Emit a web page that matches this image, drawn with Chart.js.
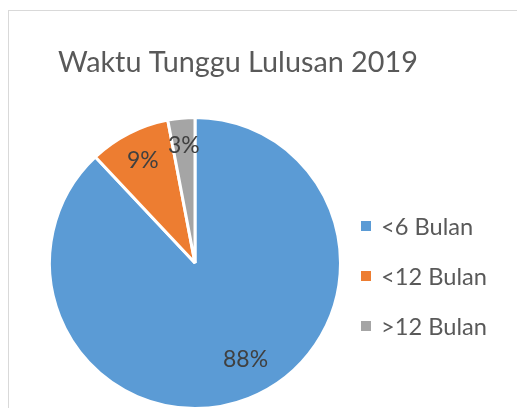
<!DOCTYPE html>
<html>
<head>
<meta charset="utf-8">
<script src="https://cdn.jsdelivr.net/npm/chart.js@4"></script>
<style>
  html, body { margin: 0; padding: 0; background: #fff; overflow: hidden; }
  #wrap { position: relative; width: 517px; height: 408px; overflow: hidden; }
  #frame { position: absolute; left: 8px; top: 10px; width: 600px; height: 500px;
           border-left: 1px solid #d9d9d9; border-top: 1px solid #d9d9d9; }
  #myChart { position: absolute; left: 0; top: 0; }
</style>
</head>
<body>
<div id="wrap">
  <div id="frame"></div>
  <canvas id="myChart" width="517" height="420"></canvas>
</div>
<script>
// data
const chartTitle = 'Waktu Tunggu Lulusan 2019';
const categories = ['<6 Bulan', '<12 Bulan', '>12 Bulan'];
const values = [88, 9, 3];
const colors = ['#5B9BD5', '#ED7D31', '#A5A5A5'];

const FONT = 'Lato, "Open Sans", sans-serif';

// fit a font size so the text gets a given width
function fitSize(ctx, text, width) {
    ctx.font = '20px ' + FONT;
    return 20 * width / ctx.measureText(text).width;
}

// label placement per slice: distance as share of radius, angle nudge in degrees
const labelPlace = [[0.75, -6], [0.79, 0], [0.81, 0]];

const extras = {
    id: 'extras',
    afterDraw(chart) {
        const ctx = chart.ctx;
        ctx.save();

        // title
        const ts = fitSize(ctx, chartTitle, 360);
        ctx.font = ts + 'px ' + FONT;
        ctx.fillStyle = '#595959';
        ctx.textAlign = 'left';
        ctx.textBaseline = 'alphabetic';
        ctx.fillText(chartTitle, 58, 72);

        // legend
        const ls = fitSize(ctx, '<12 Bulan', 106);
        ctx.font = ls + 'px ' + FONT;
        categories.forEach(function(c, i) {
            const base = 235 + i * 50;
            ctx.fillStyle = colors[i];
            ctx.fillRect(361, base - 14, 10, 10);
            ctx.fillStyle = '#595959';
            ctx.fillText(c, 381, base);
        });

        // percentage labels
        const total = values.reduce(function(a, b) { return a + b; }, 0);
        const ps = fitSize(ctx, '88%', 45);
        ctx.font = ps + 'px ' + FONT;
        ctx.fillStyle = '#404040';
        ctx.textAlign = 'center';
        ctx.textBaseline = 'middle';
        chart.getDatasetMeta(0).data.forEach(function(arc, i) {
            const p = arc.getProps(['x', 'y', 'startAngle', 'endAngle', 'outerRadius'], true);
            const mid = (p.startAngle + p.endAngle) / 2 + labelPlace[i][1] * Math.PI / 180;
            const r = p.outerRadius * labelPlace[i][0];
            const txt = Math.round(values[i] / total * 100) + '%';
            ctx.fillText(txt, p.x + Math.cos(mid) * r, p.y + Math.sin(mid) * r);
        });

        ctx.restore();
    }
};

new Chart(document.getElementById('myChart'), {
    type: 'pie',
    data: {
        labels: categories,
        datasets: [{
            data: values,
            backgroundColor: colors,
            borderColor: '#ffffff',
            borderWidth: 3
        }]
    },
    options: {
        responsive: false,
        animation: false,
        devicePixelRatio: 1,
        layout: {
            padding: { left: 48, top: 116, right: 175, bottom: 10 }
        },
        plugins: {
            legend: { display: false },
            title: { display: false },
            tooltip: { enabled: false }
        }
    },
    plugins: [extras]
});
</script>
</body>
</html>
